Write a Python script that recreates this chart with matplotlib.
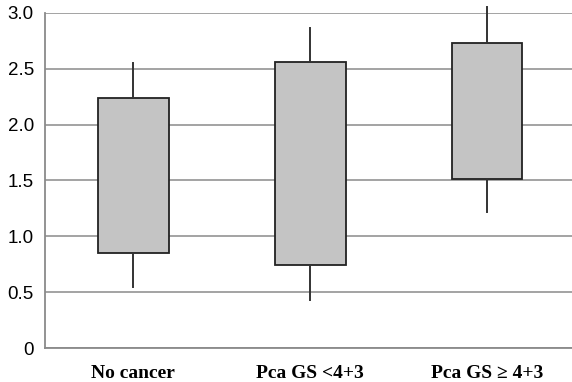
import matplotlib.pyplot as plt

# group labels and box statistics
groups = ["No cancer", "Pca GS <4+3", "Pca GS \u2265 4+3"]
q1 = [0.85, 0.745, 1.51]
q3 = [2.235, 2.56, 2.73]
wlo = [0.55, 0.43, 1.215]
whi = [2.55, 2.87, 3.05]
yticks = [0, 0.5, 1.0, 1.5, 2.0, 2.5, 3.0]
ylabels = ["0", "0.5", "1.0", "1.5", "2.0", "2.5", "3.0"]

stats = []
for i, g in enumerate(groups):
    stats.append(dict(label=g, q1=q1[i], q3=q3[i], med=q3[i],
                      whislo=wlo[i], whishi=whi[i], fliers=[]))

fig = plt.figure(figsize=(5.72, 3.82), dpi=100)
ax = fig.add_axes([0.0787, 0.089, 0.9213, 0.877])

ax.bxp(stats, positions=[1, 2, 3], widths=0.4, patch_artist=True,
       showcaps=False, showfliers=False,
       boxprops=dict(facecolor="#c4c4c4", edgecolor="#222222", linewidth=1.3),
       whiskerprops=dict(color="#333333", linewidth=1.4, clip_on=False),
       medianprops=dict(linewidth=0))

ax.set_xlim(0.5, 3.48)
ax.set_ylim(0, 3.0)
ax.set_yticks(yticks)
ax.set_yticklabels(ylabels, family="Liberation Sans", fontsize=13.5)
ax.set_xticks([1, 2, 3])
ax.set_xticklabels(groups, family="Liberation Serif", fontweight="bold", fontsize=14)
ax.tick_params(axis="both", length=0)
ax.tick_params(axis="y", pad=8)
ax.tick_params(axis="x", pad=12)

ax.yaxis.grid(True, color="#8a8a8a", linewidth=1.1)
ax.set_axisbelow(True)
for s in ["top", "right"]:
    ax.spines[s].set_visible(False)
for s in ["left", "bottom"]:
    ax.spines[s].set_color("#8a8a8a")
    ax.spines[s].set_linewidth(1.3)

fig.savefig("out.png")
